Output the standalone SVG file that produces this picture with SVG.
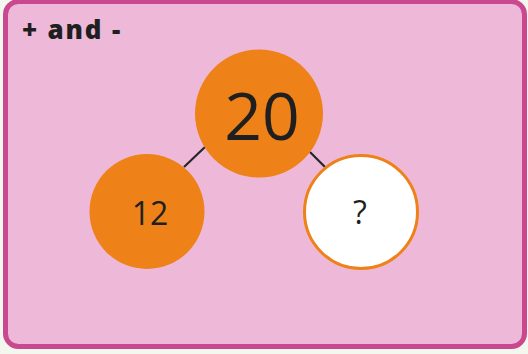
<svg xmlns="http://www.w3.org/2000/svg" width="528" height="354" viewBox="0 0 528 354">
<style>
.t{font-family:"Open Sans","Noto Sans","DejaVu Sans",sans-serif;fill:#1f1f1f;text-anchor:middle;font-weight:500}
.c{stroke:#262626;stroke-width:2.2}
</style>
<rect x="0" y="0" width="528" height="354" fill="#F4F7EE"/>
<rect id="frame" x="5.5" y="1.5" width="519" height="345" rx="13" fill="#EEB9D8" stroke="#C9488F" stroke-width="5"/>
<text x="22" y="39" font-family="'Open Sans','Noto Sans',sans-serif" font-weight="800" font-size="26" fill="#1f1f1f" letter-spacing="1.8">+ and -</text>
<g id="connectors">
<line class="c" x1="205" y1="147" x2="184" y2="167"/>
<line class="c" x1="310" y1="152" x2="325" y2="167"/>
</g>
<g id="node-20">
<circle cx="259" cy="113.5" r="64" fill="#EE8118"/>
<text class="t" x="262" y="140" font-size="66">20</text>
</g>
<g id="node-12">
<circle cx="147" cy="211.5" r="57.5" fill="#EE8118"/>
<text class="t" x="150" y="225" font-size="32">12</text>
</g>
<g id="node-q">
<circle cx="361" cy="212" r="56.5" fill="#FFFFFF" stroke="#EE8118" stroke-width="3"/>
<text class="t" x="360" y="224" font-size="32">?</text>
</g>
</svg>
